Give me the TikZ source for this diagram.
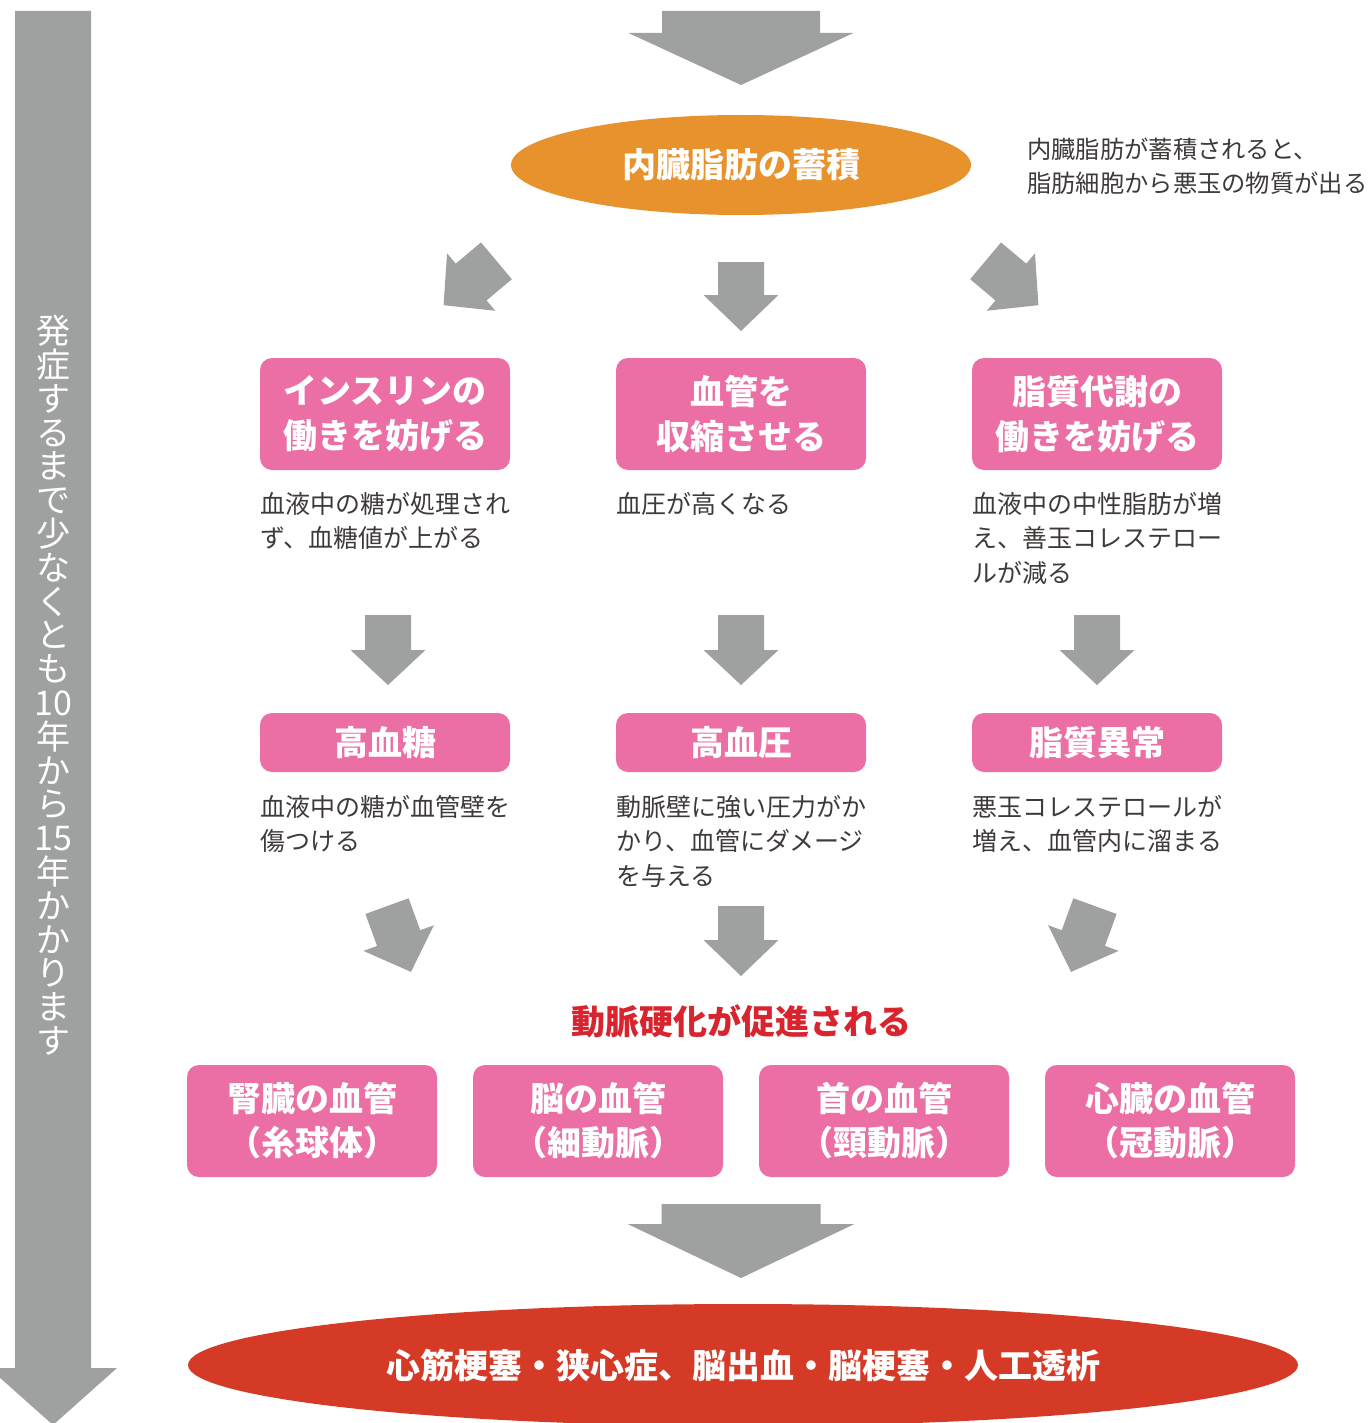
\documentclass[tikz,border=0pt]{standalone}
\usepackage{fontspec}
\setmainfont{Noto Sans CJK JP}
\usetikzlibrary{shapes.geometric}
\definecolor{arrowgray}{HTML}{9FA0A0}
\definecolor{boxpink}{HTML}{EB6EA5}
\definecolor{fatorange}{HTML}{E8922E}
\definecolor{diseasered}{HTML}{D43A26}
\definecolor{alertred}{HTML}{D7242E}
\definecolor{bodytext}{HTML}{3E3A39}
% cx, cy, rotation, shaft width, shaft length, head width, head length
\newcommand{\blockarrow}[7]{%
  \begin{scope}[shift={(#1,#2)}, rotate=#3]
    \fill[arrowgray] ({-#4/2},{-(#5+#7)/2}) -- ({#4/2},{-(#5+#7)/2}) -- ({#4/2},{(#5-#7)/2})
      -- ({#6/2},{(#5-#7)/2}) -- (0,{(#5+#7)/2}) -- ({-#6/2},{(#5-#7)/2}) -- ({-#4/2},{(#5-#7)/2}) -- cycle;
  \end{scope}}
\tikzset{
  pinkbox/.style={fill=boxpink, rounded corners=12pt, minimum width=250pt, minimum height=112pt,
    text=white, font={\bfseries\fontsize{34}{45}\selectfont}, align=center, inner sep=0pt},
  desc/.style={font={\fontsize{25}{34.5}\selectfont}, text=bodytext, align=left, inner sep=0pt, anchor=north west},
  bigtitle/.style={font={\bfseries\fontsize{34}{40}\selectfont}, inner sep=0pt}
}
\begin{document}
\begin{tikzpicture}[x=1pt,y=-1pt]
\useasboundingbox (0,0) rectangle (1370,1423);
% left time arrow
\blockarrow{53}{718}{0}{76}{1357}{128}{57}
\node[text=white, font={\fontsize{34}{33.8}\selectfont}, align=center,
  inner sep=0pt, anchor=north] (period) at (53,315)
  {\lineskiplimit=-100pt\relax 発\\症\\す\\る\\ま\\で\\少\\な\\く\\と\\も\\10\\年\\か\\ら\\15\\年\\か\\か\\り\\ま\\す};
% top arrow
\blockarrow{741}{48}{0}{158}{22}{225}{52}
% visceral fat
\node[ellipse, fill=fatorange, minimum width=460pt, minimum height=100pt, inner sep=0pt,
  text=white, bigtitle] (fat) at (741,165) {内臓脂肪の蓄積};
\node[desc, font={\fontsize{24.3}{33.5}\selectfont}] (note) at (1027,138)
  {内臓脂肪が蓄積されると、\\脂肪細胞から悪玉の物質が出る};
% level-2 arrows
\blockarrow{470}{283}{-50}{48}{33}{75}{36}
\blockarrow{741}{296.5}{0}{46}{33}{75}{36}
\blockarrow{1012}{283}{50}{48}{33}{75}{36}
% row 1 boxes
\node[pinkbox] (insulin) at (385,414) {インスリンの\\働きを妨げる};
\node[pinkbox] (vessel) at (741,414) {血管を\\収縮させる};
\node[pinkbox] (lipid) at (1097,414) {脂質代謝の\\働きを妨げる};
\node[desc] (d1) at (260,492) {血液中の糖が処理され\\ず、血糖値が上がる};
\node[desc] (d2) at (616,492) {血圧が高くなる};
\node[desc] (d3) at (972,492) {血液中の中性脂肪が増\\え、善玉コレステロー\\ルが減る};
% level-3 arrows
\blockarrow{388}{650}{0}{46}{35}{75}{35}
\blockarrow{741}{650}{0}{46}{35}{75}{35}
\blockarrow{1097}{650}{0}{46}{35}{75}{35}
% row 2 boxes
\node[pinkbox, minimum height=59pt] (hg) at (385,742.5) {高血糖};
\node[pinkbox, minimum height=59pt] (hp) at (741,742.5) {高血圧};
\node[pinkbox, minimum height=59pt] (dl) at (1097,742.5) {脂質異常};
\node[desc] (e1) at (260,795) {血液中の糖が血管壁を\\傷つける};
\node[desc] (e2) at (616,795) {動脈壁に強い圧力がか\\かり、血管にダメージ\\を与える};
\node[desc] (e3) at (972,795) {悪玉コレステロールが\\増え、血管内に溜まる};
% level-4 arrows
\blockarrow{399}{939}{20}{46}{34}{75}{36}
\blockarrow{741}{941}{0}{46}{34}{75}{36}
\blockarrow{1083}{939}{-20}{46}{34}{75}{36}
\node[bigtitle, text=alertred] (athero) at (741,1021) {動脈硬化が促進される};
% row 3 boxes
\node[pinkbox, font={\bfseries\fontsize{34}{44}\selectfont}] (kidney) at (312,1121) {腎臓の血管\\（糸球体）};
\node[pinkbox, font={\bfseries\fontsize{34}{44}\selectfont}] (brain) at (598,1121) {脳の血管\\（細動脈）};
\node[pinkbox, font={\bfseries\fontsize{34}{44}\selectfont}] (neck) at (884,1121) {首の血管\\（頸動脈）};
\node[pinkbox, font={\bfseries\fontsize{34}{44}\selectfont}] (heart) at (1170,1121) {心臓の血管\\（冠動脈）};
% bottom arrow
\blockarrow{741}{1241}{0}{159}{20}{227}{54}
\node[ellipse, fill=diseasered, minimum width=1110pt, minimum height=122pt, inner sep=0pt,
  text=white, bigtitle] (disease) at (743,1365) {心筋梗塞・狭心症、脳出血・脳梗塞・人工透析};
\end{tikzpicture}
\end{document}
